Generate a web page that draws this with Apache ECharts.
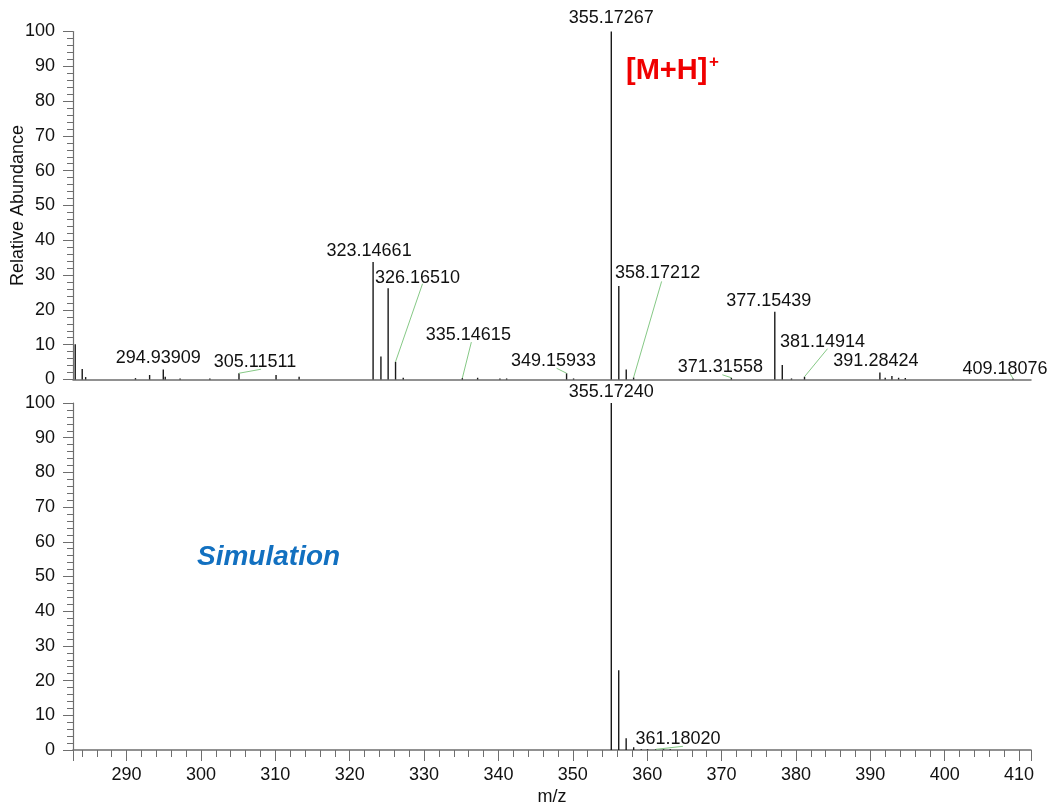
<!DOCTYPE html>
<html>
<head>
<meta charset="utf-8">
<script src="https://cdn.jsdelivr.net/npm/echarts@6/dist/echarts.min.js"></script>
<style>
  html, body { margin: 0; padding: 0; background: #fff; }
  #chart { width: 1055px; height: 809px; }
</style>
</head>
<body>
<div id="chart"></div>
<script>
// measured spectrum (m/z, relative abundance)
const topMz = [283.10, 284.04, 284.50, 291.20, 293.10, 294.93909, 295.20, 297.20, 301.20, 305.11511,
  310.10, 313.20, 323.14661, 324.20, 325.17, 326.16510, 327.20, 335.14615, 337.20, 340.20, 341.10,
  349.15933, 350.10, 355.17267, 356.18, 357.18, 358.17212, 371.31558, 377.15439, 378.16, 379.40,
  381.14914, 391.28424, 392.00, 392.90, 393.80, 394.70, 409.18076];
const topAbund = [10.1, 3.0, 0.7, 0.4, 1.3, 2.9, 0.8, 0.3, 0.3, 1.8,
  1.3, 0.8, 33.8, 6.6, 26.2, 5.1, 0.5, 0.4, 0.5, 0.3, 0.3,
  1.8, 0.3, 100, 26.9, 2.9, 0.6, 0.5, 19.5, 4.2, 0.3,
  0.8, 2.0, 0.5, 1.0, 0.5, 0.4, 0.3];

// simulated isotope pattern
const botMz = [355.17240, 356.17, 357.17, 358.18, 359.20, 360.05, 361.18020, 362.20, 363.10];
const botAbund = [100, 23.0, 3.4, 0.8, 0.2, 0.2, 0.2, 0.2, 0.2];

// annotated peaks: label offset [dx, dy] from peak top, optional leader end [ex, ey]
const annot = {
  '294.93909': [-5, -11],
  '305.11511': [16, -11, 22, -4],
  '323.14661': [-4, -11],
  '326.16510': [22, -84, 27, -78],
  '335.14615': [6, -43, 9, -36],
  '349.15933': [-13, -12, -10, -5],
  '355.17267': [0, -13],
  '358.17212': [24, -104, 28, -96],
  '371.31558': [-11, -11, -9, -3],
  '377.15439': [-6, -11],
  '381.14914': [18, -35, 23, -28],
  '391.28424': [-4, -12],
  '409.18076': [-8, -9, -3, -5],
  '355.17240': [0, -11],
  '361.18020': [22, -10, 27, -3]
};

const FONT = "'Liberation Sans', Arial, sans-serif";
const axisColor = '#6e6e6e';

function renderPeak(params, api) {
  const mz = api.value(0), ab = api.value(1);
  const base = api.coord([mz, 0]);
  const top = api.coord([mz, ab]);
  const children = [{
    type: 'line',
    shape: { x1: base[0], y1: base[1], x2: top[0], y2: top[1] },
    style: { stroke: '#1a1a1a', lineWidth: 1.4 }
  }];
  const key = mz.toFixed(5);
  const a = annot[key];
  if (a) {
    if (a.length > 2) {
      children.push({
        type: 'line',
        shape: { x1: top[0], y1: top[1], x2: top[0] + a[2], y2: top[1] + a[3] },
        style: { stroke: '#86c986', lineWidth: 1 }
      });
    }
    children.push({
      type: 'text',
      z2: 10,
      style: {
        x: top[0] + a[0], y: top[1] + a[1], text: key,
        fill: '#111', font: '18px ' + FONT, align: 'center', verticalAlign: 'middle'
      }
    });
  }
  return { type: 'group', children: children };
}

function yAxisFor(grid, withName) {
  return {
    type: 'value', gridIndex: grid, min: 0, max: 100, interval: 10,
    name: withName ? 'Relative Abundance' : '',
    nameLocation: 'middle', nameGap: 46, nameMoveOverlap: false,
    nameTextStyle: { fontFamily: FONT, fontSize: 18, color: '#111' },
    axisLine: { show: true, lineStyle: { color: axisColor, width: 1.2 } },
    axisTick: { show: true, length: 10, lineStyle: { color: axisColor } },
    minorTick: { show: true, splitNumber: 5, length: 6, lineStyle: { color: axisColor } },
    axisLabel: { fontFamily: FONT, fontSize: 18, color: '#111', margin: 18 },
    splitLine: { show: false },
    minorSplitLine: { show: false }
  };
}

const chart = echarts.init(document.getElementById('chart'));
chart.setOption({
  backgroundColor: '#fff',
  animation: false,
  grid: [
    { left: 73, top: 31.5, right: 24, height: 348, containLabel: false, outerBoundsMode: 'none' },
    { left: 73, top: 403, right: 24, height: 347, containLabel: false, outerBoundsMode: 'none' }
  ],
  xAxis: [
    {
      type: 'value', gridIndex: 0, min: 282.8, max: 411.6,
      axisLine: { show: true, onZero: false, lineStyle: { color: axisColor, width: 1.5 } },
      axisTick: { show: false }, axisLabel: { show: false }, splitLine: { show: false }
    },
    {
      type: 'value', gridIndex: 1, min: 282.8, max: 411.6,
      splitNumber: 10, minInterval: 10, maxInterval: 10,
      name: 'm/z', nameLocation: 'middle', nameGap: 38, nameMoveOverlap: false,
      nameTextStyle: { fontFamily: FONT, fontSize: 18, color: '#111' },
      axisLine: { show: true, onZero: false, lineStyle: { color: axisColor, width: 1.5 } },
      axisTick: { show: true, length: 11, lineStyle: { color: axisColor } },
      minorTick: { show: true, splitNumber: 5, length: 7, lineStyle: { color: axisColor } },
      axisLabel: { fontFamily: FONT, fontSize: 18, color: '#111', margin: 16, showMinLabel: false, showMaxLabel: false },
      splitLine: { show: false }, minorSplitLine: { show: false }
    }
  ],
  yAxis: [yAxisFor(0, true), yAxisFor(1, false)],
  series: [
    {
      type: 'custom', xAxisIndex: 0, yAxisIndex: 0, clip: false,
      renderItem: renderPeak, encode: { x: 0, y: 1 },
      data: topMz.map((m, i) => [m, topAbund[i]])
    },
    {
      type: 'custom', xAxisIndex: 1, yAxisIndex: 1, clip: false,
      renderItem: renderPeak, encode: { x: 0, y: 1 },
      data: botMz.map((m, i) => [m, botAbund[i]])
    }
  ],
  graphic: [
    { type: 'text', left: 626, top: 56, style: { text: '[M+H]', fill: '#f00000', font: 'bold 29px ' + FONT } },
    { type: 'text', left: 709, top: 54, style: { text: '+', fill: '#f00000', font: 'bold 17px ' + FONT } },
    { type: 'text', left: 197, top: 543, style: { text: 'Simulation', fill: '#1270c0', font: 'italic bold 28px ' + FONT } }
  ]
});
</script>
</body>
</html>
